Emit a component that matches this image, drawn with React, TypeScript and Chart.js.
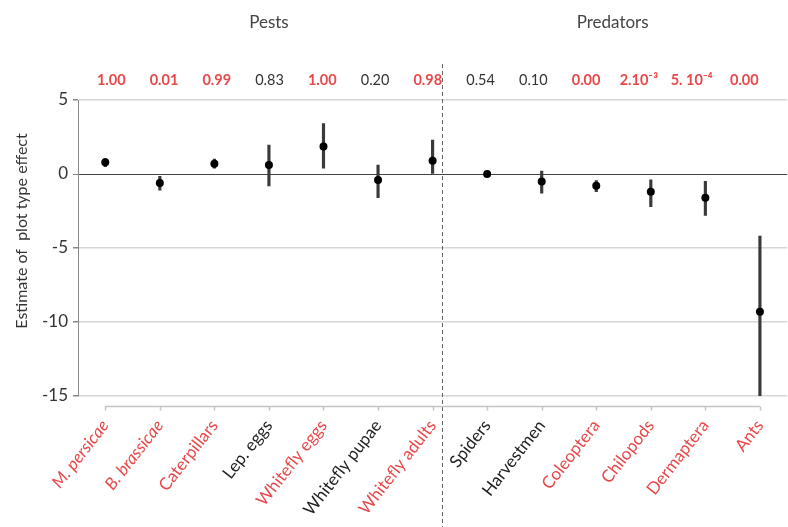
import React, { useEffect, useRef } from "react";
import { Chart, registerables } from "chart.js";

Chart.register(...registerables);

const categories = [
  "M. persicae", "B. brassicae", "Caterpillars", "Lep. eggs", "Whitefly eggs",
  "Whitefly pupae", "Whitefly adults", "Spiders", "Harvestmen", "Coleoptera",
  "Chilopods", "Dermaptera", "Ants",
];
const italicLabels = [true, true, false, false, false, false, false, false, false, false, false, false, false];
const estimates = [0.8, -0.6, 0.7, 0.6, 1.85, -0.4, 0.9, 0.0, -0.5, -0.8, -1.2, -1.6, -9.3];
const lows = [0.5, -1.1, 0.4, -0.8, 0.4, -1.6, 0.0, -0.1, -1.3, -1.2, -2.2, -2.8, -15];
const highs = [1.05, -0.15, 1.0, 1.95, 3.4, 0.6, 2.3, 0.1, 0.2, -0.45, -0.4, -0.5, -4.2];
const pValues = ["1.00", "0.01", "0.99", "0.83", "1.00", "0.20", "0.98", "0.54", "0.10", "0.00", "2.10\u207B\u00B3", "5. 10\u207B\u2074", "0.00"];
const significant = [true, true, true, false, true, false, true, false, false, true, true, true, true];
const groupNames = ["Pests", "Predators"];
const groupCenters = [3, 9.3];
const dividerAt = 6.18;
const yTicks = [5, 0, -5, -10, -15];
const yTitle = "Estimate of  plot type effect";

const RED = "#e8484a";
const FONT = "Lato, 'Open Sans', sans-serif";

const overlay = {
  id: "overlay",
  afterDraw(chart: any) {
    const ctx = chart.ctx;
    const x = chart.scales.x;
    const area = chart.chartArea;
    ctx.save();
    // group headers
    ctx.fillStyle = "#444";
    ctx.font = `17px ${FONT}`;
    ctx.textAlign = "center";
    ctx.textBaseline = "middle";
    groupNames.forEach((g, i) => {
      ctx.fillText(g, x.getPixelForValue(groupCenters[i]), 23);
    });
    // p-values
    pValues.forEach((p, i) => {
      ctx.font = significant[i] ? `bold 14.5px ${FONT}` : `14.5px ${FONT}`;
      ctx.fillStyle = significant[i] ? RED : "#333";
      ctx.fillText(p, x.getPixelForValue(i) + 6 - 1.8 * i, 80);
    });
    // y title
    ctx.save();
    ctx.translate(22, (area.top + area.bottom) / 2 - 17);
    ctx.rotate(-Math.PI / 2);
    ctx.font = `16px ${FONT}`;
    ctx.fillStyle = "#333";
    ctx.fillText(yTitle, 0, 0);
    ctx.restore();
    // dashed divider
    const dx = Math.round(x.getPixelForValue(dividerAt)) + 0.5;
    ctx.strokeStyle = "#666";
    ctx.lineWidth = 1;
    ctx.setLineDash([4, 3]);
    ctx.beginPath();
    ctx.moveTo(dx, 64);
    ctx.lineTo(dx, chart.height);
    ctx.stroke();
    ctx.setLineDash([]);
    // bottom category axis line
    const by = Math.round(area.bottom + 10) + 0.5;
    ctx.strokeStyle = "#c4c4c4";
    ctx.lineWidth = 1.5;
    ctx.beginPath();
    ctx.moveTo(x.getPixelForValue(0), by);
    ctx.lineTo(x.getPixelForValue(categories.length - 1), by);
    for (let i = 0; i < categories.length; i++) {
      const px = Math.round(x.getPixelForValue(i)) + 0.5;
      ctx.moveTo(px, by);
      ctx.lineTo(px, by + 4);
    }
    ctx.stroke();
    ctx.restore();
  },
};

export default function App() {
  const ref = useRef<HTMLCanvasElement | null>(null);
  useEffect(() => {
    if (!ref.current) return;
    const chart = new Chart(ref.current, {
      type: "bar",
      data: {
        labels: categories,
        datasets: [
          {
            type: "line",
            data: estimates,
            showLine: false,
            pointRadius: 4,
            pointBackgroundColor: "#000",
            pointBorderColor: "#000",
            pointBorderWidth: 0,
            order: 0,
          } as any,
          {
            type: "bar",
            data: lows.map((l, i) => [l, highs[i]]),
            backgroundColor: "#3a3a3a",
            borderWidth: 0,
            barThickness: 2.5,
            order: 1,
          } as any,
        ],
      },
      options: {
        animation: false,
        responsive: true,
        maintainAspectRatio: false,
        layout: { autoPadding: false, padding: { top: 100, left: 0, right: 0, bottom: 0 } },
        plugins: { legend: { display: false }, tooltip: { enabled: false } },
        scales: {
          x: {
            grid: { display: false },
            border: { display: false },
            ticks: {
              minRotation: 52,
              maxRotation: 52,
              padding: 12,
              autoSkip: false,
              color: (c: any) => (significant[c.index] ? RED : "#222"),
              font: (c: any) => ({
                family: FONT,
                size: 17,
                style: italicLabels[c.index] ? "italic" : "normal",
              }),
            },
            afterFit: (s: any) => {
              s.height = 131;
            },
          },
          y: {
            min: -15,
            max: 5,
            afterBuildTicks: (s: any) => {
              s.ticks = yTicks.map((v) => ({ value: v }));
            },
            grid: {
              color: (c: any) => (c.tick && c.tick.value === 0 ? "#444" : "#d6d6d6"),
              lineWidth: (c: any) => (c.tick && c.tick.value === 0 ? 1 : 1.5),
              tickLength: 5,
              tickColor: "#888",
            },
            border: { display: true, color: "#8a8a8a" },
            ticks: {
              color: "#333",
              padding: 5,
              font: { family: FONT, size: 17 },
            },
            afterFit: (s: any) => {
              s.width = 78;
            },
          },
        },
      },
      plugins: [overlay],
    });
    return () => chart.destroy();
  }, []);
  return (
    <div style={{ position: "fixed", left: 0, top: 0, width: 788, height: 527, background: "#fff" }}>
      <canvas ref={ref} />
    </div>
  );
}
